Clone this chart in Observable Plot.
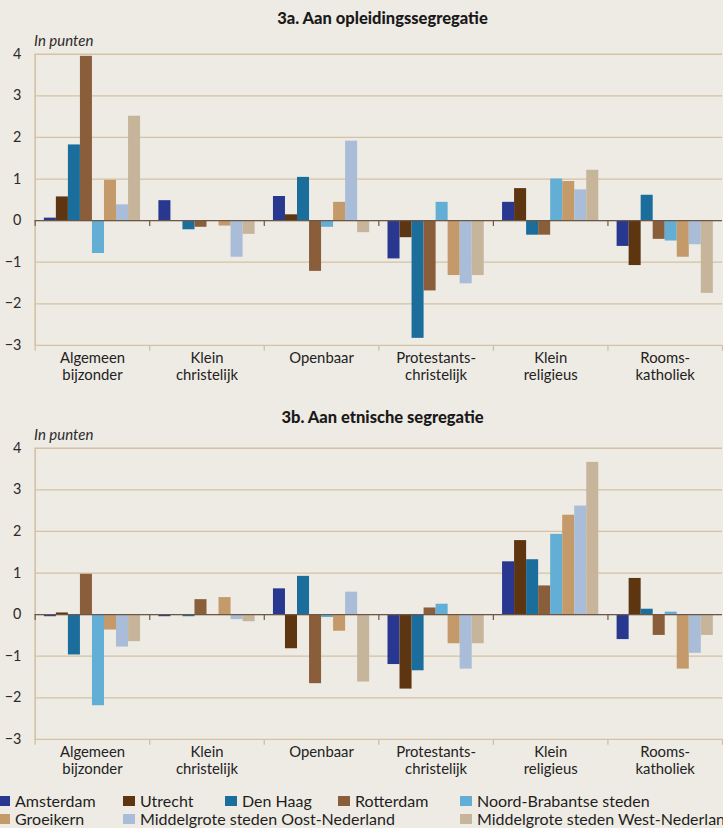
<!DOCTYPE html>
<html><head><meta charset="utf-8">
<script src="https://cdn.jsdelivr.net/npm/d3@7"></script>
<script src="https://cdn.jsdelivr.net/npm/@observablehq/plot@0.6"></script>
<style>
html,body{margin:0;padding:0;background:#eeebe4;overflow:hidden;}
#root{position:relative;width:723px;height:828px;overflow:hidden;font-family:Lato,"Open Sans",sans-serif;color:#222;}
.title{position:absolute;left:35px;width:695px;text-align:center;font-weight:900;font-size:16.5px;line-height:18px;color:#1a1a1a;white-space:nowrap;}
.unit{position:absolute;left:34px;font-style:italic;font-size:15px;line-height:18px;color:#2a2a2a;}
.plot{position:absolute;left:0;}
.leg{position:absolute;font-size:16px;line-height:18px;white-space:nowrap;display:flex;align-items:center;color:#1e1e1e;}
.sw{width:12px;height:10px;margin-right:5px;display:inline-block;flex:none;}
</style></head><body><div id="root"></div>
<script>
const categories = ["Algemeen\nbijzonder", "Klein\nchristelijk", "Openbaar", "Protestants-\nchristelijk", "Klein\nreligieus", "Rooms-\nkatholiek"];
const series = ["Amsterdam", "Utrecht", "Den Haag", "Rotterdam", "Noord-Brabantse steden", "Groeikern", "Middelgrote steden Oost-Nederland", "Middelgrote steden West-Nederland"];
const colors = ["#283891", "#5e3511", "#1b6d9c", "#8b5e3b", "#63aed4", "#c59a6a", "#a9bdd8", "#c6b59b"];
const yTicks = [-3, -2, -1, 0, 1, 2, 3, 4];
const titleA = "3a. Aan opleidingssegregatie";
const titleB = "3b. Aan etnische segregatie";
const unitLabel = "In punten";

// one row per category, values in series order
const opleiding = [
  [0.06, 0.57, 1.82, 3.95, -0.79, 0.97, 0.38, 2.51],
  [0.48, 0.00, -0.22, -0.16, 0.00, -0.13, -0.88, -0.33],
  [0.58, 0.14, 1.04, -1.22, -0.16, 0.44, 1.91, -0.29],
  [-0.92, -0.41, -2.83, -1.69, 0.44, -1.32, -1.52, -1.32],
  [0.44, 0.77, -0.35, -0.35, 1.00, 0.94, 0.74, 1.21],
  [-0.62, -1.08, 0.61, -0.45, -0.49, -0.88, -0.58, -1.75]
];
const etnisch = [
  [-0.05, 0.04, -0.97, 0.97, -2.19, -0.37, -0.78, -0.65],
  [-0.05, 0.00, -0.05, 0.36, 0.00, 0.41, -0.12, -0.17],
  [0.62, -0.82, 0.92, -1.66, -0.07, -0.40, 0.54, -1.62],
  [-1.20, -1.79, -1.35, 0.16, 0.25, -0.70, -1.31, -0.70],
  [1.27, 1.78, 1.32, 0.69, 1.93, 2.39, 2.61, 3.66],
  [-0.60, 0.87, 0.13, -0.50, 0.06, -1.31, -0.93, -0.50]
];

const PAD = 0.08, BW = 0.105;
const tan = "#d3c2a3", dark = "#6b5848";

function chart(values) {
  const rows = [];
  values.forEach((vals, ci) => vals.forEach((v, si) => rows.push({ci, si, series: series[si], value: v})));
  return Plot.plot({
    width: 730, height: 362,
    marginLeft: 35, marginRight: 1, marginTop: 26, marginBottom: 42,
    style: {background: "transparent", fontFamily: "Lato, 'Open Sans', sans-serif", color: "#222", overflow: "visible"},
    x: {domain: [0, categories.length], axis: null},
    y: {domain: [-3, 4], axis: null},
    color: {domain: series, range: colors},
    marks: [
      Plot.gridY(yTicks, {stroke: tan, strokeOpacity: 1, strokeWidth: 1.3}),
      Plot.ruleX([0], {y1: -3, y2: 4, stroke: tan, strokeWidth: 1.6}),
      Plot.ruleX(d3.range(categories.length + 1), {y1: -3, y2: -3, insetBottom: -6, stroke: tan, strokeWidth: 1.4}),
      Plot.rectY(rows, {
        x1: d => d.ci + PAD + d.si * BW,
        x2: d => d.ci + PAD + (d.si + 1) * BW,
        y: "value", fill: "series"
      }),
      Plot.ruleY([0], {stroke: dark, strokeWidth: 1.2}),
      Plot.ruleX(d3.range(categories.length), {y1: 0, y2: 0, insetBottom: -6, stroke: dark, strokeWidth: 1.2}),
      Plot.axisY(yTicks, {tickSize: 0, tickPadding: 14, fontSize: 14.5, fill: "#2a2a2a", label: null}),
      Plot.text(categories, {x: (d, i) => i + 0.5, y: () => -3, dy: 5, lineAnchor: "top", lineHeight: 1.15, fontSize: 15, fill: "#222"})
    ]
  });
}

const root = document.getElementById("root");
function addDiv(cls, text, top) {
  const d = document.createElement("div");
  d.className = cls; d.textContent = text; d.style.top = top + "px";
  root.appendChild(d); return d;
}
addDiv("title", titleA, 9);
addDiv("unit", unitLabel, 31);
const pa = chart(opleiding); pa.classList.add("plot"); pa.style.top = "28px"; root.appendChild(pa);
addDiv("title", titleB, 408);
addDiv("unit", unitLabel, 425);
const pb = chart(etnisch); pb.classList.add("plot"); pb.style.top = "422px"; root.appendChild(pb);

// legend layout (swatch left, row center y) per series
const legendPos = [[-2, 801], [123, 801], [225, 801], [338, 801], [460, 801], [-2, 819], [123, 819], [460, 819]];
series.forEach((s, i) => {
  const d = document.createElement("div");
  d.className = "leg";
  d.style.left = legendPos[i][0] + "px";
  d.style.top = (legendPos[i][1] - 9) + "px";
  const sw = document.createElement("span");
  sw.className = "sw"; sw.style.background = colors[i];
  d.appendChild(sw); d.appendChild(document.createTextNode(s));
  root.appendChild(d);
});
</script></body></html>
